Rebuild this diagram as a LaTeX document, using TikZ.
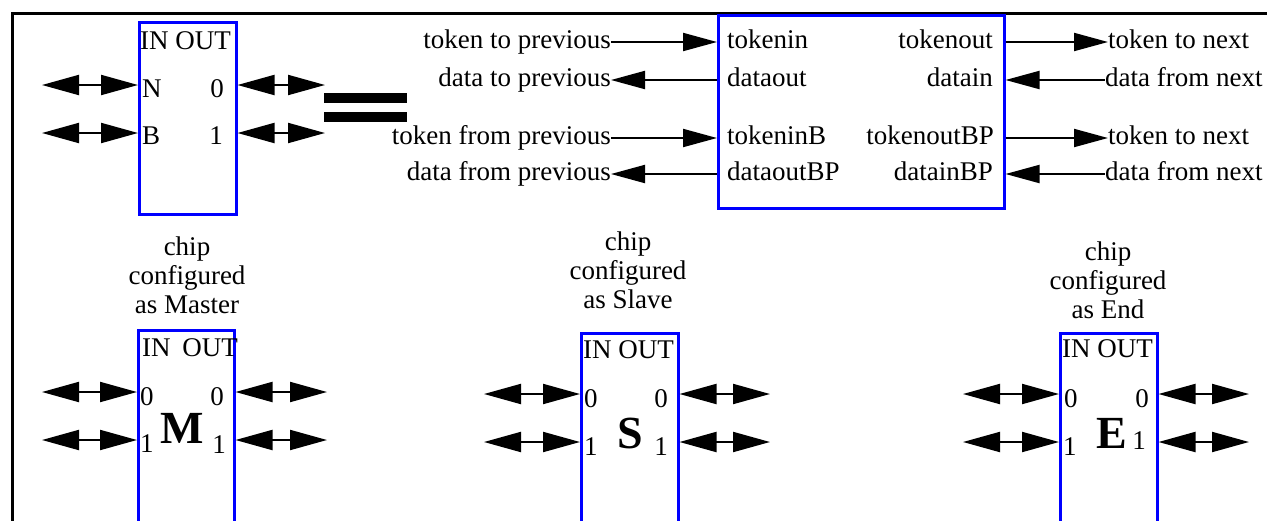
\documentclass[tikz,border=0pt]{standalone}
\usepackage{fontspec}
\setmainfont{Liberation Serif}
\usepackage{tikz}
\usetikzlibrary{arrows.meta}
\tikzset{>={Triangle[length=37pt,width=20pt]}}

\begin{document}
\begin{tikzpicture}[x=1pt,y=-1pt,
  every node/.style={font=\fontsize{27}{29}\selectfont},
  chip/.style={draw=blue,line width=2.5pt,inner sep=0pt,anchor=north west},
  lab/.style={inner sep=0pt,text height=18pt,text depth=5pt},
  port/.style={inner sep=0pt},
  big/.style={inner sep=0pt,anchor=base,font=\fontsize{46}{50}\selectfont\bfseries},
  role/.style={inner sep=0pt,anchor=south,align=center},
  wire/.style={line width=2pt},
  sig/.style={line width=2pt,>={Triangle[length=34pt,width=18pt]}}]
       \useasboundingbox (0,0) rectangle (1267,520);
       \clip (0,0) rectangle (1267,520);
       \draw[line width=3pt] (12,13) rectangle (1300,600);
       % generic chip
       \node[chip,minimum width=97pt,minimum height=192pt] (gen) at (138,21) {};
       \node[port,anchor=base west] (genio) at (140,49) {IN OUT};
       \node[port,anchor=base west] (genN) at (142,97) {N};
       \node[port,anchor=base east] (gen0) at (224,97) {0};
       \node[port,anchor=base west] (genB) at (142,144) {B};
       \node[port,anchor=base east] (gen1) at (223,144) {1};
       \coordinate (genl0) at (42,85);
       \coordinate (genl1) at (42,133);
       \coordinate (genr0) at (325,85);
       \coordinate (genr1) at (325,133);
       \draw[<->,wire] (genl0) -- (genl0 -| gen.west);
       \draw[<->,wire] (genl1) -- (genl1 -| gen.west);
       \draw[<->,wire] (genr0 -| gen.east) -- (genr0);
       \draw[<->,wire] (genr1 -| gen.east) -- (genr1);
       \fill (324,93) rectangle (407,103);
       \fill (324,112) rectangle (407,122);
       % signals
       \node[chip,minimum width=286pt,minimum height=193pt] (ring) at (717,14) {};
       \node[lab,anchor=west] (tin) at (727,42) {tokenin};
       \node[lab,anchor=west] (dout) at (727,80) {dataout};
       \node[lab,anchor=west] (tinb) at (727,138) {tokeninB};
       \node[lab,anchor=west] (doutb) at (727,174) {dataoutBP};
       \node[lab,anchor=east] (tout) at (993,42) {tokenout};
       \node[lab,anchor=east] (din) at (993,80) {datain};
       \node[lab,anchor=east] (toutb) at (994,138) {tokenoutBP};
       \node[lab,anchor=east] (dinb) at (993,174) {datainBP};
       \node[lab,anchor=east] (tprev) at (611,42) {token to previous};
       \node[lab,anchor=east] (dprev) at (611,80) {data to previous};
       \node[lab,anchor=east] (tfprev) at (611,138) {token from previous};
       \node[lab,anchor=east] (dfprev) at (611,174) {data from previous};
       \node[lab,anchor=west] (tnext) at (1108,42) {token to next};
       \node[lab,anchor=west] (dnext) at (1105,80) {data from next};
       \node[lab,anchor=west] (tbnext) at (1108,138) {token to next};
       \node[lab,anchor=west] (dbnext) at (1105,174) {data from next};
       \draw[->,sig] (tprev) -- (tprev -| ring.west);
       \draw[<-,sig] (dprev) -- (dprev -| ring.west);
       \draw[->,sig] (tfprev) -- (tfprev -| ring.west);
       \draw[<-,sig] (dfprev) -- (dfprev -| ring.west);
       \draw[->,sig] (tnext -| ring.east) -- (tnext);
       \draw[<-,sig] (dnext -| ring.east) -- (dnext);
       \draw[->,sig] (tbnext -| ring.east) -- (tbnext);
       \draw[<-,sig] (dbnext -| ring.east) -- (dbnext);
       % master
       \node[role] (mstt) at (187,314) {chip\\configured\\as Master};
       \node[chip,minimum width=96pt,minimum height=300pt] (mst) at (137,329) {};
       \node[port,anchor=base west] (mstio) at (142,356) {IN\hspace{5pt} OUT};
       \node[port,anchor=base west] (mstl0) at (140,405) {0};
       \node[port,anchor=base west] (mstl1) at (140,452) {1};
       \node[port,anchor=base east] (mstr0) at (224,405) {0};
       \node[port,anchor=base east] (mstr1) at (226,453) {1};
       \node[big] (mstm) at (182,443) {M};
       \coordinate (mstl0a) at (42,392);
       \coordinate (mstl1a) at (42,440);
       \coordinate (mstr0a) at (327,392);
       \coordinate (mstr1a) at (327,440);
       \draw[<->,wire] (mstl0a) -- (mstl0a -| mst.west);
       \draw[<->,wire] (mstl1a) -- (mstl1a -| mst.west);
       \draw[<->,wire] (mstr0a -| mst.east) -- (mstr0a);
       \draw[<->,wire] (mstr1a -| mst.east) -- (mstr1a);
       % slave
       \node[role] (slvt) at (628,309) {chip\\configured\\as Slave};
       \node[chip,minimum width=97pt,minimum height=300pt] (slv) at (580,332) {};
       \node[port,anchor=base west] (slvio) at (583,358) {IN OUT};
       \node[port,anchor=base west] (slvl0) at (584,407) {0};
       \node[port,anchor=base west] (slvl1) at (584,455) {1};
       \node[port,anchor=base east] (slvr0) at (668,407) {0};
       \node[port,anchor=base east] (slvr1) at (668,455) {1};
       \node[big] (slvs) at (630,448) {S};
       \coordinate (slvl0a) at (484,394);
       \coordinate (slvl1a) at (484,442);
       \coordinate (slvr0a) at (770,394);
       \coordinate (slvr1a) at (770,442);
       \draw[<->,wire] (slvl0a) -- (slvl0a -| slv.west);
       \draw[<->,wire] (slvl1a) -- (slvl1a -| slv.west);
       \draw[<->,wire] (slvr0a -| slv.east) -- (slvr0a);
       \draw[<->,wire] (slvr1a -| slv.east) -- (slvr1a);
       % end
       \node[role] (echt) at (1108,319) {chip\\configured\\as End};
       \node[chip,minimum width=97pt,minimum height=300pt] (ech) at (1059,332) {};
       \node[port,anchor=base west] (echio) at (1062,357) {IN OUT};
       \node[port,anchor=base west] (echl0) at (1064,407) {0};
       \node[port,anchor=base west] (echl1) at (1063,455) {1};
       \node[port,anchor=base east] (echr0) at (1149,407) {0};
       \node[port,anchor=base east] (echr1) at (1146,449) {1};
       \node[big] (eche) at (1112,448) {E};
       \coordinate (echl0a) at (963,394);
       \coordinate (echl1a) at (963,442);
       \coordinate (echr0a) at (1249,394);
       \coordinate (echr1a) at (1249,442);
       \draw[<->,wire] (echl0a) -- (echl0a -| ech.west);
       \draw[<->,wire] (echl1a) -- (echl1a -| ech.west);
       \draw[<->,wire] (echr0a -| ech.east) -- (echr0a);
       \draw[<->,wire] (echr1a -| ech.east) -- (echr1a);
      \end{tikzpicture}
\end{document}
